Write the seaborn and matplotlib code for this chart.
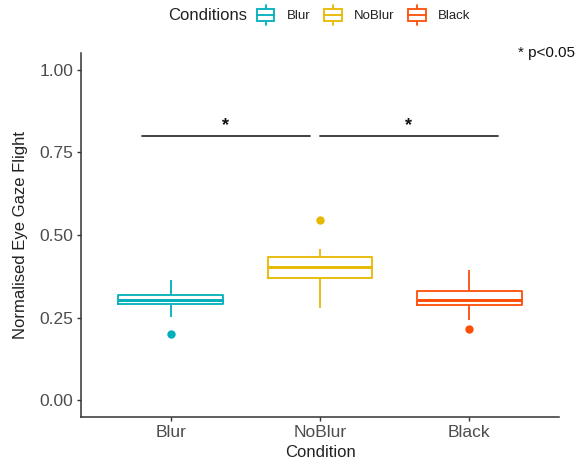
import numpy as np
import pandas as pd
import matplotlib
matplotlib.use("Agg")
import matplotlib.pyplot as plt
import seaborn as sns
from matplotlib.legend_handler import HandlerBase
from matplotlib.patches import Rectangle, Patch
from matplotlib.lines import Line2D

# ---- data ----
conditions = ["Blur", "NoBlur", "Black"]
colors = ["#00AFBB", "#E7B800", "#FC4E07"]
blur_values = [0.200, 0.252, 0.290, 0.296, 0.304, 0.311, 0.320, 0.340, 0.363]
noblur_values = [0.278, 0.340, 0.370, 0.385, 0.402, 0.418, 0.433, 0.458, 0.545]
black_values = [0.217, 0.242, 0.288, 0.296, 0.305, 0.318, 0.331, 0.360, 0.395]
y_ticks = [0.00, 0.25, 0.50, 0.75, 1.00]
y_tick_labels = ["0.00", "0.25", "0.50", "0.75", "1.00"]
sig_x_ranges = [(-0.19, 0.93), (1.0, 2.19)]
sig_y = 0.80
sig_label = "*"
note_text = "* p<0.05"

df = pd.DataFrame({
    "Condition": (["Blur"] * len(blur_values) + ["NoBlur"] * len(noblur_values)
                  + ["Black"] * len(black_values)),
    "value": blur_values + noblur_values + black_values,
})
df["Condition"] = pd.Categorical(df["Condition"], categories=conditions, ordered=True)

sns.set_theme(style="white")
plt.rcParams["font.family"] = ["Liberation Sans", "DejaVu Sans"]

fig = plt.figure(figsize=(5.84, 4.62), dpi=100)
ax = fig.add_axes([81 / 584, 45 / 462, (559 - 81) / 584, (417 - 53) / 462])

palette = dict(zip(conditions, colors))
sns.boxplot(data=df, x="Condition", y="value", hue="Condition", order=conditions,
            hue_order=conditions, palette=palette, fill=False, width=0.7,
            linewidth=1.3, legend=False, whis=1.5, showcaps=False,
            medianprops=dict(linewidth=2.1),
            flierprops=dict(marker="o", markersize=5), ax=ax)

for ln in ax.lines:
    if ln.get_marker() == "o":
        ln.set_markerfacecolor(ln.get_markeredgecolor())

ax.set_xlim(-0.6, 2.6)
ax.set_ylim(-0.05, 1.05)
ax.set_yticks(y_ticks)
ax.set_yticklabels(y_tick_labels)

for s in ["top", "right"]:
    ax.spines[s].set_visible(False)
for s in ["left", "bottom"]:
    ax.spines[s].set_color("#333333")
    ax.spines[s].set_linewidth(1.1)

ax.tick_params(axis="both", which="major", length=3, width=1.0, color="#333333",
               labelsize=12.5, labelcolor="#4D4D4D", pad=2.5, left=True, bottom=True)
ax.set_xlabel("Condition", fontsize=12, color="#222222", labelpad=4)
ax.set_ylabel("Normalised Eye Gaze Flight", fontsize=12, color="#222222", labelpad=8)

# significance bars
for (x0, x1) in sig_x_ranges:
    ax.plot([x0, x1], [sig_y, sig_y], color="#333333", linewidth=1.3)
    ax.text((x0 + x1) / 2, sig_y + 0.004, sig_label, ha="center", va="bottom",
            fontsize=13, fontweight="bold", color="#111111")

fig.text(575 / 584, 1 - 53 / 462, note_text, ha="right", va="center",
         fontsize=11, color="#111111")


# legend with boxplot-like key glyphs
class BoxHandler(HandlerBase):
    def create_artists(self, legend, orig_handle, xdescent, ydescent, width, height,
                       fontsize, trans):
        c = orig_handle.get_edgecolor()
        cx = -xdescent + width / 2
        cy = -ydescent + height / 2
        bh = height * 1.2
        rect = Rectangle((-xdescent + width * 0.08, cy - bh / 2), width * 0.84, bh,
                         facecolor="white", edgecolor=c, linewidth=1.3, transform=trans)
        med = Line2D([-xdescent + width * 0.08, -xdescent + width * 0.92], [cy, cy],
                     color=c, linewidth=1.3, transform=trans)
        w1 = Line2D([cx, cx], [cy + bh / 2, cy + bh / 2 + height * 0.4], color=c,
                    linewidth=1.3, transform=trans)
        w2 = Line2D([cx, cx], [cy - bh / 2, cy - bh / 2 - height * 0.4], color=c,
                    linewidth=1.3, transform=trans)
        return [w1, w2, rect, med]


handles = [Patch(facecolor="white", edgecolor=c) for c in colors]
fig.text(168 / 584, 1 - 16 / 462, "Conditions", ha="left", va="center",
         fontsize=12, color="#222222")
fig.legend(handles, conditions, loc="center left",
           bbox_to_anchor=(255 / 584, 1 - 16 / 462), ncol=3, frameon=False,
           fontsize=9.5, handlelength=1.6, handleheight=0.8, handletextpad=0.8,
           columnspacing=0.9, borderpad=0, borderaxespad=0,
           handler_map={Patch: BoxHandler()}, labelcolor="#222222")

fig.savefig("out.png", dpi=100)
